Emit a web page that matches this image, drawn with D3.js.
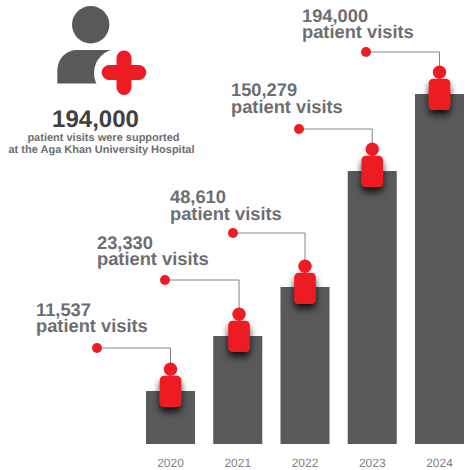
<!DOCTYPE html>
<html><head><meta charset="utf-8">
<script src="https://cdnjs.cloudflare.com/ajax/libs/d3/7.8.5/d3.min.js"></script>
<style>html,body{margin:0;padding:0;background:#fff}svg{display:block}text{font-family:"Liberation Sans",Arial,sans-serif;text-rendering:geometricPrecision}</style>
</head><body><div id="c"></div>
<script>
const years = ["2020","2021","2022","2023","2024"];
const visits = [11537,23330,48610,150279,194000];
const visitLabels = ["11,537","23,330","48,610","150,279","194,000"];
const unitLabel = "patient visits";
const headline = "194,000";
const subLines = ["patient visits were supported","at the Aga Khan University Hospital"];

const W=466,H=470;
const svg=d3.select("#c").append("svg").attr("width",W).attr("height",H);
const defs=svg.append("defs");
const f=defs.append("filter").attr("id","sh").attr("x","-80%").attr("y","-50%").attr("width","260%").attr("height","220%");
f.append("feDropShadow").attr("dx",0).attr("dy",5).attr("stdDeviation",3.5).attr("flood-color","#000").attr("flood-opacity",0.8);

const RED="#ed1c24",BAR="#58595b",LABEL="#6d6e71";
const x=d3.scaleBand().domain(years).range([146,464]).paddingInner(0.271).paddingOuter(0);
// the picture's bars are not to a linear scale: piecewise scale through the drawn heights
const y=d3.scaleLinear().domain([0,...visits]).range([444,391,336,287,171,94]);

// per-bar annotation layout
const dotX=[97,165,233,299,366], dotY=[348,280,233,129,52];
const textX=[36,97,170,231,302], textY=[315.5,248.5,203,96,21.5];
const personShiftX=[0,1.3,0,0,0], personShiftY=[0,0,1,0,0];

const g=svg.append("g");
const rows=years.map((yr,i)=>({yr,v:visits[i],lab:visitLabels[i],dx:dotX[i],dy:dotY[i],tx:textX[i],ty:textY[i],s:personShiftX[i],sy:personShiftY[i]}));

g.selectAll("rect.bar").data(rows).join("rect").attr("class","bar")
 .attr("x",d=>x(d.yr)).attr("width",x.bandwidth())
 .attr("y",d=>y(d.v)).attr("height",d=>y(0)-y(d.v)).attr("fill",BAR);

const cx=d=>x(d.yr)+x.bandwidth()/2;
g.selectAll("path.lead").data(rows).join("path").attr("class","lead")
 .attr("d",d=>`M${d.dx},${d.dy}H${cx(d)+d.s}V${y(d.v)-22}`)
 .attr("fill","none").attr("stroke","#808285").attr("stroke-width",1);
g.selectAll("circle.dot").data(rows).join("circle").attr("class","dot")
 .attr("cx",d=>d.dx).attr("cy",d=>d.dy).attr("r",5).attr("fill",RED);

const p=g.selectAll("g.person").data(rows).join("g").attr("class","person")
 .attr("transform",d=>`translate(${cx(d)+d.s},${y(d.v)+d.sy})`);
p.append("rect").attr("x",-10.8).attr("y",-15.3).attr("width",21.6).attr("height",31.3).attr("rx",4.5)
 .attr("fill",RED).attr("filter","url(#sh)");
p.append("circle").attr("cy",-21.7).attr("r",6.7).attr("fill",RED);

const t=g.selectAll("text.val").data(rows).join("text").attr("class","val")
 .attr("font-weight","700").attr("font-size",18.3).attr("fill",LABEL);
t.append("tspan").attr("x",d=>d.tx).attr("y",d=>d.ty).text(d=>d.lab);
t.append("tspan").attr("x",d=>d.tx).attr("dy",16.8).text(unitLabel);

g.selectAll("text.yr").data(rows).join("text").attr("class","yr")
 .attr("x",cx).attr("y",466.5).attr("text-anchor","middle").attr("font-size",12).attr("fill","#808285").text(d=>d.yr);

// icon
const ic=svg.append("g");
ic.append("circle").attr("cx",90.7).attr("cy",24.7).attr("r",18.7).attr("fill",BAR);
ic.append("path").attr("fill",BAR).attr("d","M57.3,83.5V72C57.3,58 66,50 78,50H110V83.5Z");
ic.append("circle").attr("cx",118).attr("cy",73).attr("r",24).attr("fill","#fff");
ic.append("path").attr("fill","none").attr("stroke",RED).attr("stroke-width",15).attr("stroke-linecap","round")
 .attr("d","M124,58V87.5M109.2,72.5H138.8");
ic.append("text").attr("x",95.5).attr("y",127).attr("text-anchor","middle").attr("font-size",24).attr("font-weight","700").attr("fill","#414042").text(headline);
const subX=[103.5,101.5];
ic.selectAll("text.sub").data(subLines).join("text").attr("class","sub")
 .attr("x",(d,i)=>subX[i]).attr("y",(d,i)=>141+i*12).attr("text-anchor","middle").attr("font-size",11).attr("font-weight","700").attr("fill",LABEL).text(d=>d);
</script></body></html>
